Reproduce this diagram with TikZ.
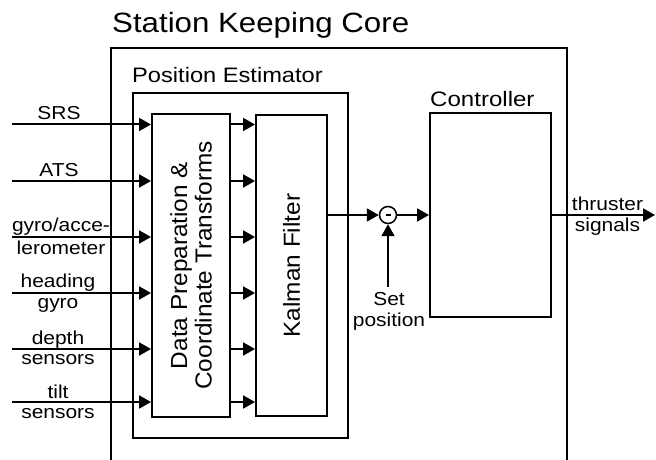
\documentclass[tikz,border=0pt]{standalone}
\usepackage{fontspec}
\setmainfont{Liberation Sans}
\usetikzlibrary{arrows.meta}
\newcommand\sx[2][1.12]{\scalebox{#1}[1]{#2}}
\tikzset{
  box/.style={draw, line width=2bp, rectangle, inner sep=0},
  arr/.style={line width=2bp, -{Triangle[length=12bp,width=13bp]}},
  ln/.style={line width=2bp},
  lab/.style={font=\fontsize{18.8}{21}\selectfont, inner sep=0, anchor=base},
  head/.style={font=\fontsize{21}{24}\selectfont, inner sep=0, anchor=base west},
  rot/.style={font=\fontsize{23.3}{24.5}\selectfont, inner sep=0, rotate=90, align=center},
}
\begin{document}
\begin{tikzpicture}[x=1bp, y=-1bp]
\useasboundingbox (0,0) rectangle (656,460);
% outer core (open at bottom)
\coordinate (cbl) at (111,460);
\coordinate (ctl) at (111,48);
\coordinate (ctr) at (567,48);
\coordinate (cbr) at (567,460);
\draw[ln] (cbl) -- (ctl) -- (ctr) -- (cbr);
\node[head, font=\fontsize{28}{32}\selectfont] (title) at (112,33) {\sx{Station Keeping Core}};
% position estimator
\node[box, minimum width=215bp, minimum height=345bp] (pe) at (240.5,265.5) {};
\node[head] (pelab) at (132,83) {\sx[1.13]{Position Estimator}};
% data preparation
\node[box, minimum width=78bp, minimum height=303bp] (dp) at (191,265.5) {};
\node[rot] (dptxt) at (dp.center) {\sx[1.05]{Data Preparation \&}\\\sx[1.05]{Coordinate Transforms}};
% kalman
\node[box, minimum width=71bp, minimum height=301bp] (kf) at (291.5,265.5) {};
\node[rot] (kftxt) at (kf.center) {\sx[1.05]{Kalman Filter}};
% controller
\node[box, minimum width=121bp, minimum height=204bp] (ctrl) at (490.5,215) {};
\node[head] (ctrllab) at (430,107) {\sx[1.15]{Controller}};
% summing junction
\node[draw, circle, line width=1.5bp, minimum size=17bp, inner sep=0] (sum) at (388,215) {};
\draw[line width=2bp] ([xshift=-2.5bp]sum.center) -- ([xshift=2.5bp]sum.center);
% inputs
\coordinate (i1) at (12,124.5);
\coordinate (i2) at (12,181);
\coordinate (i3) at (12,237);
\coordinate (i4) at (12,293);
\coordinate (i5) at (12,349);
\coordinate (i6) at (12,402);
\foreach \i in {1,...,6}{
  \draw[arr] (i\i) -- (i\i -| dp.west);
  \draw[arr] (i\i -| dp.east) -- (i\i -| kf.west);
}
\node[lab] (l1) at (59,120) {\sx{SRS}};
\node[lab] (l2) at (59,176.5) {\sx{ATS}};
\node[lab] (l3a) at (61,232) {\sx{gyro/acce-}};
\node[lab] (l3b) at (61,255) {\sx{lerometer}};
\node[lab] (l4a) at (58,288) {\sx{heading}};
\node[lab] (l4b) at (58,309) {\sx{gyro}};
\node[lab] (l5a) at (58,344) {\sx{depth}};
\node[lab] (l5b) at (58,364) {\sx{sensors}};
\node[lab] (l6a) at (58,398) {\sx{tilt}};
\node[lab] (l6b) at (58,418) {\sx{sensors}};
% kalman -> sum -> controller
\draw[arr] (kf.east |- sum) -- (sum.west);
\draw[arr] (sum.east) -- (ctrl.west |- sum);
% set position
\coordinate (sp) at (388,287);
\draw[arr] (sp) -- (sum.south);
\node[lab] (sp1) at (389,306) {\sx{Set}};
\node[lab] (sp2) at (389,327) {\sx{position}};
% output
\coordinate (out) at (655,215);
\draw[arr] (ctrl.east |- out) -- (out);
\node[lab] (o1) at (607.5,211) {\sx{thruster}};
\node[lab] (o2) at (607.5,232) {\sx{signals}};
\end{tikzpicture}
\end{document}
